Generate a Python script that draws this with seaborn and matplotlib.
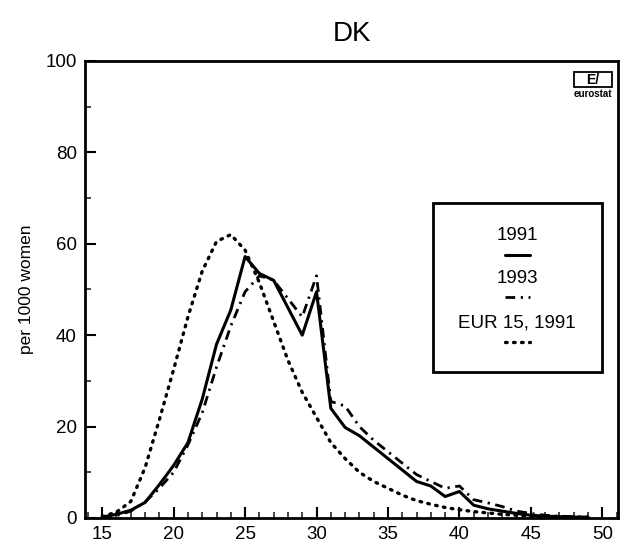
import numpy as np
import pandas as pd
import matplotlib
matplotlib.use("Agg")
import matplotlib.pyplot as plt
import seaborn as sns
from matplotlib.lines import Line2D
from matplotlib.patches import Rectangle
from matplotlib.ticker import MultipleLocator

# Age-specific fertility rates, Denmark (per 1000 women)
ages = list(range(15, 50))
dk_1991 = [0.2, 0.8, 1.7, 3.4, 7.3, 11.5, 16.5, 26.0, 38.0, 45.5,
           57.2, 53.5, 52.0, 46.0, 40.0, 49.5, 24.0, 19.8, 18.0, 15.5,
           13.0, 10.5, 8.0, 7.0, 4.7, 5.8, 2.8, 2.0, 1.5, 1.0,
           0.6, 0.4, 0.3, 0.2, 0.2]
dk_1993 = [0.2, 0.5, 1.5, 3.5, 6.5, 10.0, 16.0, 23.0, 33.0, 42.0,
           49.5, 53.0, 52.0, 48.0, 44.0, 53.0, 25.5, 24.5, 20.0, 17.0,
           14.5, 12.0, 9.5, 8.0, 6.5, 7.0, 4.0, 3.3, 2.5, 1.5,
           1.0, 0.6, 0.4, 0.3, 0.2]
eur15_1991 = [0.3, 1.3, 3.6, 11.0, 21.5, 32.5, 44.0, 54.0, 60.5, 62.0,
              58.6, 51.5, 43.0, 34.5, 27.5, 22.0, 16.5, 13.0, 10.0, 8.0,
              6.5, 5.0, 3.8, 3.0, 2.3, 1.8, 1.4, 1.1, 0.8, 0.6,
              0.4, 0.3, 0.2, 0.1, 0.1]
series_labels = ["1991", "1993", "EUR 15, 1991"]

df = pd.DataFrame({"age": ages, "1991": dk_1991, "1993": dk_1993,
                   "EUR 15, 1991": eur15_1991})

sns.set_style("ticks")
plt.rcParams["font.family"] = ["Liberation Sans", "DejaVu Sans"]
plt.rcParams["text.color"] = "black"
plt.rcParams["axes.labelcolor"] = "black"

styles = {
    "1991": dict(linestyle="-", linewidth=2.2),
    "1993": dict(linestyle=(0, (3.5, 2.0, 0.8, 2.0)), linewidth=2.0),
    "EUR 15, 1991": dict(linestyle=(0, (0.5, 1.9)), linewidth=2.4,
                         dash_capstyle="round"),
}

fig, ax = plt.subplots(figsize=(6.3, 5.54), dpi=100)
fig.subplots_adjust(left=0.135, right=0.981, top=0.89, bottom=0.065)

for lab in series_labels:
    sns.lineplot(data=df, x="age", y=lab, color="black", ax=ax, **styles[lab])

ax.set_xlim(13.8, 51.1)
ax.set_ylim(0, 100)
ax.xaxis.set_major_locator(MultipleLocator(5))
ax.xaxis.set_minor_locator(MultipleLocator(1))
ax.yaxis.set_major_locator(MultipleLocator(20))
ax.yaxis.set_minor_locator(MultipleLocator(10))
ax.tick_params(which="major", direction="in", length=8, width=1.5,
               labelsize=13.5, colors="black", pad=6)
ax.tick_params(which="minor", direction="in", length=4, width=1.2)
for sp in ax.spines.values():
    sp.set_linewidth(2)
    sp.set_color("black")

ax.set_xlabel("")
ax.set_ylabel("per 1000 women", fontsize=12.5, labelpad=8)
ax.set_title("DK", fontsize=20, pad=14)

# legend box with labels above their line samples
ax.add_patch(Rectangle((0.653, 0.319), 0.317, 0.370, transform=ax.transAxes,
                       fill=False, edgecolor="black", linewidth=2, zorder=5))
cx = 0.811
text_y = [0.619, 0.525, 0.427]
line_y = [0.575, 0.484, 0.385]
for lab, ty, ly in zip(series_labels, text_y, line_y):
    ax.text(cx, ty, lab, transform=ax.transAxes, ha="center", va="center",
            fontsize=13.5)
    ax.add_line(Line2D([cx - 0.024, cx + 0.024], [ly, ly],
                       transform=ax.transAxes, color="black", **styles[lab]))

# eurostat logo
ax.add_patch(Rectangle((0.918, 0.942), 0.07, 0.033, transform=ax.transAxes,
                       fill=False, edgecolor="black", linewidth=1.3))
ax.text(0.953, 0.958, "E/", transform=ax.transAxes, ha="center", va="center",
        fontsize=10, fontweight="bold")
ax.text(0.953, 0.928, "eurostat", transform=ax.transAxes, ha="center",
        va="center", fontsize=7, fontweight="bold")

fig.savefig("out.png", dpi=100)
